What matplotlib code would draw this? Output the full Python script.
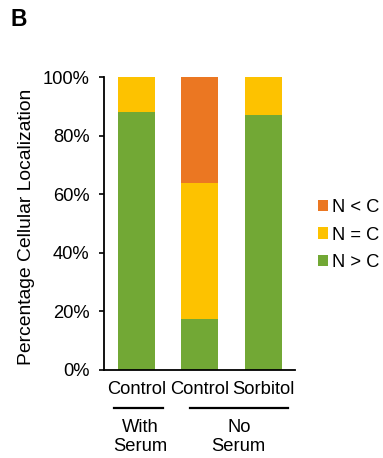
import matplotlib.pyplot as plt
from matplotlib.transforms import blended_transform_factory

plt.rcParams['font.family'] = ['Liberation Sans', 'DejaVu Sans']

# data (percent)
categories = ['Control', 'Control', 'Sorbitol']
n_gt_c = [88.0, 17.5, 87.0]
n_eq_c = [12.0, 46.3, 13.0]
n_lt_c = [0.0, 36.2, 0.0]
groups = ['With\nSerum', 'No\nSerum']

green = '#72A835'
yellow = '#FDC200'
orange = '#EB7722'
fs = 13.2

fig = plt.figure(figsize=(3.83, 4.58), dpi=100)
ax = fig.add_axes([104 / 383, 88 / 458, 191 / 383, 293 / 458])

x = list(range(len(categories)))
w = 0.58
b1 = ax.bar(x, n_gt_c, w, color=green, label='N > C')
b2 = ax.bar(x, n_eq_c, w, bottom=n_gt_c, color=yellow, label='N = C')
bottom3 = [a + b for a, b in zip(n_gt_c, n_eq_c)]
b3 = ax.bar(x, n_lt_c, w, bottom=bottom3, color=orange, label='N < C')

ax.set_xlim(-0.51, 2.5)
ax.set_ylim(0, 100)
ax.set_yticks([0, 20, 40, 60, 80, 100])
ax.set_yticklabels(['0%', '20%', '40%', '60%', '80%', '100%'], fontsize=fs)
ax.set_xticks(x)
ax.set_xticklabels(categories, fontsize=fs)
ax.tick_params(axis='x', length=0, pad=8)
ax.tick_params(axis='y', length=3.5, width=1.2, pad=7)
for s in ['top', 'right']:
    ax.spines[s].set_visible(False)
for s in ['left', 'bottom']:
    ax.spines[s].set_linewidth(1.3)

ax.set_ylabel('Percentage Cellular Localization', fontsize=13.9)
ax.yaxis.set_label_coords(-0.36, 0.49)

# group brackets under the category labels
tr = blended_transform_factory(ax.transData, ax.transAxes)
ax.plot([-0.354, 0.417], [-0.13, -0.13], color='black', lw=1.6,
        transform=tr, clip_on=False)
ax.plot([0.843, 2.386], [-0.13, -0.13], color='black', lw=1.6,
        transform=tr, clip_on=False)
ax.text(0.055, -0.229, groups[0], transform=tr, ha='center', va='center',
        fontsize=fs, linespacing=1.1)
ax.text(1.614, -0.229, groups[1], transform=tr, ha='center', va='center',
        fontsize=fs, linespacing=1.1)

fig.legend(handles=[b3, b2, b1], loc='center left',
           bbox_to_anchor=(318 / 383, (458 - 235) / 458), frameon=False,
           fontsize=fs, handlelength=0.55, handleheight=0.55,
           handletextpad=0.22, labelspacing=0.55, borderpad=0,
           borderaxespad=0)

fig.text(10 / 383, 1 - 20 / 458, 'B', fontsize=16.5, fontweight='bold',
         va='center', ha='left')

fig.savefig('out.png', dpi=100)
